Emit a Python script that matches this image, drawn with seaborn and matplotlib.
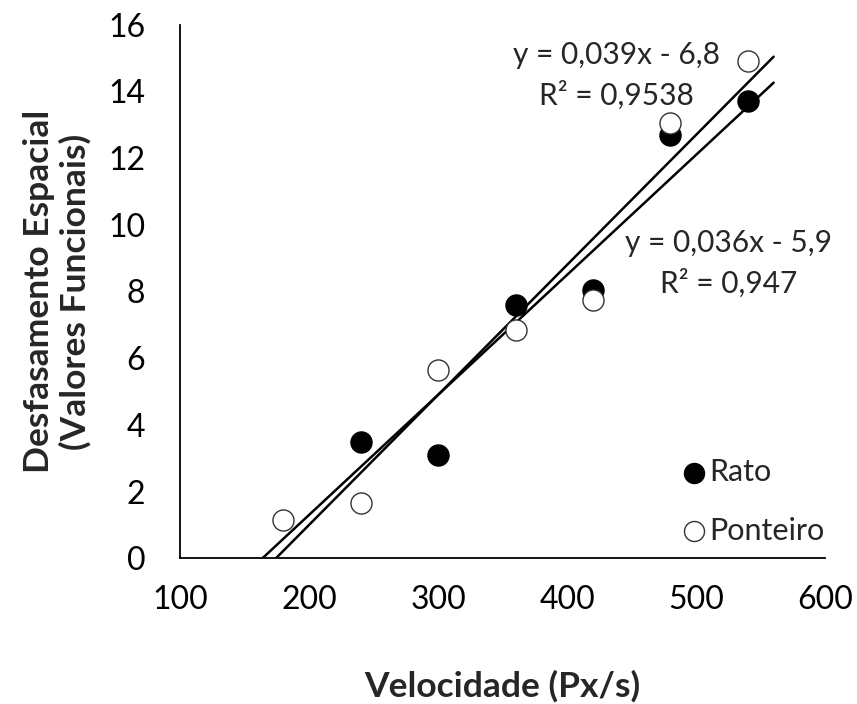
import numpy as np
import pandas as pd
import matplotlib.pyplot as plt
import seaborn as sns

# dados
vel_rato = [240, 300, 360, 420, 480, 540]
desf_rato = [3.5, 3.1, 7.6, 8.05, 12.7, 13.7]
vel_pont = [180, 240, 300, 360, 420, 480, 540]
desf_pont = [1.15, 1.65, 5.65, 6.85, 7.75, 13.05, 14.9]

# linhas de tendência (coeficientes das equações)
coef_rato = (0.036, -5.9)
coef_pont = (0.039, -6.8)
x_fim = 560

sns.set_theme(style='white')
plt.rcParams['font.family'] = ['Lato', 'DejaVu Sans']

fig = plt.figure(figsize=(8.57, 7.04), dpi=100)
ax = fig.add_axes([0.21, 0.207, 0.753, 0.758])

for a, b in (coef_rato, coef_pont):
    xs = np.array([-b / a, x_fim])
    sns.lineplot(x=xs, y=a * xs + b, ax=ax, color='black', lw=1.8)

df_r = pd.DataFrame({'x': vel_rato, 'y': desf_rato})
df_p = pd.DataFrame({'x': vel_pont, 'y': desf_pont})
sns.scatterplot(data=df_r, x='x', y='y', ax=ax, s=230, color='black',
                edgecolor='black', linewidth=1, label='Rato', zorder=3)
sns.scatterplot(data=df_p, x='x', y='y', ax=ax, s=230, color='white',
                edgecolor='#333333', linewidth=1, label='Ponteiro', zorder=4)

ax.set_xlim(100, 600)
ax.set_ylim(0, 16)
ax.set_xticks(range(100, 601, 100))
ax.set_yticks(range(0, 17, 2))
sns.despine(ax=ax)
for s in ('left', 'bottom'):
    ax.spines[s].set_color('black')
    ax.spines[s].set_linewidth(1.3)
ax.tick_params(axis='both', direction='out', length=7, width=1.3,
               color='black', labelsize=23, labelcolor='black')
ax.tick_params(axis='y', pad=18)
ax.tick_params(axis='x', pad=12)

ax.set_xlabel('Velocidade (Px/s)', fontsize=25.5, fontweight='bold', labelpad=40)
ax.set_ylabel('Desfasamento Espacial\n(Valores Funcionais)', fontsize=25.5,
              fontweight='bold', labelpad=12, linespacing=1.15)

ax.text(438, 15.1, 'y = 0,039x - 6,8', ha='center', va='center', fontsize=21.5)
ax.text(438, 13.9, 'R² = 0,9538', ha='center', va='center', fontsize=21.5)
ax.text(525, 9.45, 'y = 0,036x - 5,9', ha='center', va='center', fontsize=21.5,
        clip_on=False)
ax.text(525, 8.25, 'R² = 0,947', ha='center', va='center', fontsize=21.5)

ax.legend(loc='lower left', bbox_to_anchor=(0.712, -0.02), frameon=False,
          fontsize=22, handletextpad=-0.5, labelspacing=1.0, borderpad=0.3,
          markerscale=0.95)

fig.savefig('out.png', dpi=100)
